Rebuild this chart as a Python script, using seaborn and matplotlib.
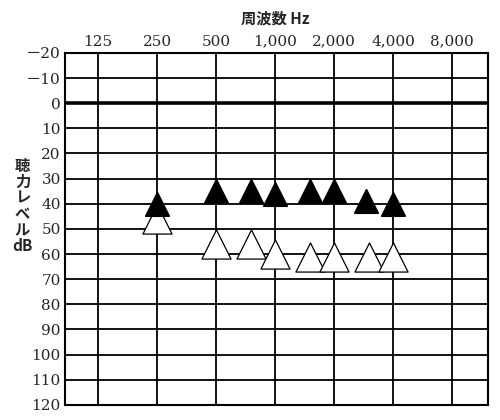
import numpy as np
import pandas as pd
import matplotlib
matplotlib.use("Agg")
import matplotlib.pyplot as plt
import seaborn as sns

# audiogram data (Hz, dB)
freq_ticks = [125, 250, 500, 1000, 2000, 4000, 8000]
freq_labels = ["125", "250", "500", "1,000", "2,000", "4,000", "8,000"]
db_ticks = list(range(-20, 121, 10))

filled_freq = [250, 500, 750, 1000, 1500, 2000, 2900, 4000]
filled_db = [40, 35, 35, 36, 35, 35, 39, 40]
open_freq = [250, 500, 750, 1000, 1500, 2000, 3000, 4000]
open_db = [46, 56, 56, 60, 61, 61, 61, 61]

sns.set_style("white")
plt.rcParams["font.family"] = ["Noto Sans CJK JP", "DejaVu Sans"]

fig = plt.figure(figsize=(5, 4.2), dpi=100)
ax = fig.add_axes([0.13, 0.036, 0.846, 0.838])

ax.set_xscale("log", base=2)
for f in freq_ticks:
    ax.axvline(f, color="black", lw=1.3, zorder=1)
for d in db_ticks:
    ax.axhline(d, color="black", lw=2.6 if d == 0 else 1.3, zorder=1)

df_filled = pd.DataFrame({"freq": filled_freq, "db": filled_db})
df_open = pd.DataFrame({"freq": open_freq, "db": open_db})
sns.scatterplot(data=df_open, x="freq", y="db", marker="^", s=440,
                color="white", edgecolor="black", linewidth=0.9, ax=ax, zorder=3)
sns.scatterplot(data=df_filled, x="freq", y="db", marker="^", s=280,
                color="black", edgecolor="black", ax=ax, zorder=4)

ax.set_xlim(125 / 2 ** 0.56, 8000 * 2 ** 0.61)
ax.set_ylim(120, -20)
ax.xaxis.tick_top()
ax.set_xticks(freq_ticks)
ax.set_xticklabels(freq_labels, fontfamily="DejaVu Serif", fontsize=11)
ax.minorticks_off()
ax.set_yticks(db_ticks)
ax.set_yticklabels([f"－{-d}" if d < 0 else str(d) for d in db_ticks],
                   fontsize=11, fontfamily=["DejaVu Serif", "Noto Sans CJK JP"])
ax.tick_params(length=0, pad=3)
ax.set_xlabel("")
ax.set_ylabel("")
for sp in ax.spines.values():
    sp.set_linewidth(1.5)
    sp.set_color("black")

fig.text(0.55, 0.955, "周波数 Hz", ha="center", va="center", fontsize=11,
         fontweight="bold")
fig.text(0.045, 0.51, "聴\n力\nレ\nベ\nル\ndB", ha="center", va="center",
         fontsize=11, linespacing=1.0, fontweight="bold")

fig.savefig("out.png", dpi=100)
